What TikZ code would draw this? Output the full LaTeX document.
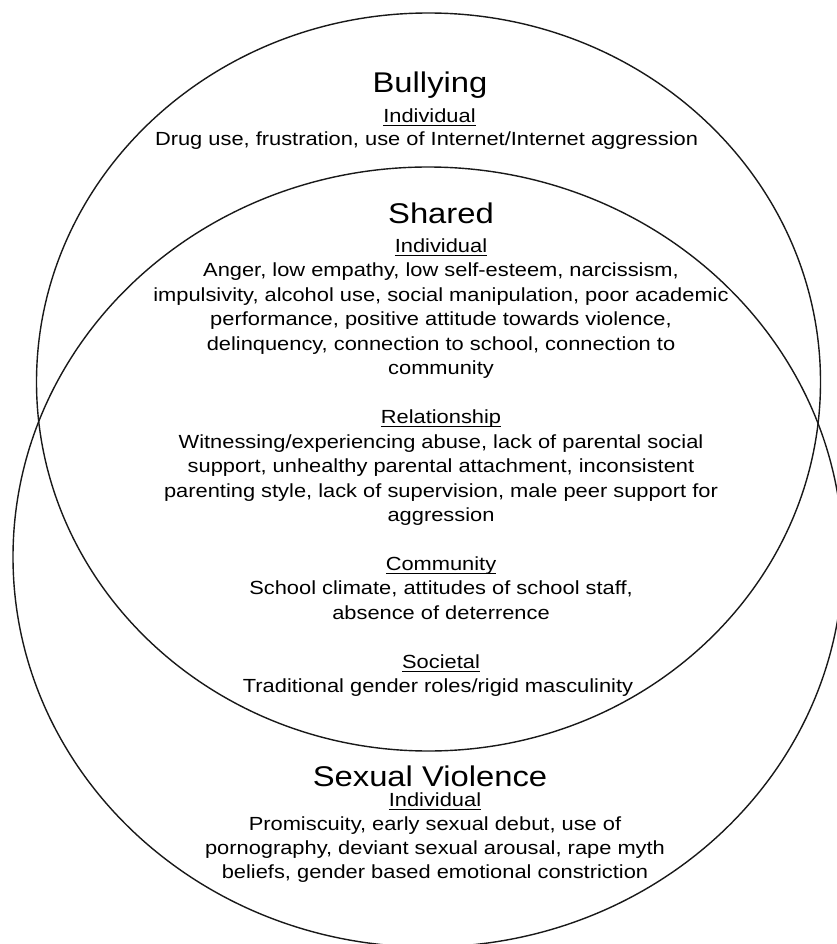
\documentclass[tikz,border=0pt]{standalone}
\usepackage{fontspec}
\setmainfont{Liberation Sans}[FakeStretch=1.15]
% underlined sub-heading
\newcommand\hdr[1]{\setbox0\hbox{#1}\rlap{\rule[-3.6pt]{\wd0}{1.2pt}}\box0}
\tikzset{
  ring/.style={draw=black!90, line width=1.4pt},
  bigtitle/.style={anchor=base, inner sep=0pt, font=\fontsize{28.5}{34}\selectfont},
  body/.style={anchor=base, inner sep=0pt, font=\fontsize{19}{24}\selectfont},
}
\begin{document}
\begin{tikzpicture}[x=1pt, y=-1pt]
\fill[white] (0,0) rectangle (837,944);
\useasboundingbox (0,0) rectangle (837,944);
\begin{scope}
\clip (0,0) rectangle (837,944);
% the two overlapping sets
\draw[ring] (428.5,382) ellipse [x radius=392, y radius=369];
\draw[ring] (428,557) ellipse [x radius=415, y radius=390];
\end{scope}

% Bullying only
\node[bigtitle] (bt) at (430,93) {Bullying};
\node[body] (b1) at (429.5,122.5) {\hdr{Individual}};
\node[body] (b2) at (426.5,145.7) {Drug use, frustration, use of Internet/Internet aggression};

% Shared factors
\node[bigtitle] (st) at (441,223) {Shared};
\node[body] (s1)  at (441,252.5)  {\hdr{Individual}};
\node[body] (s2)  at (441,276.95) {Anger, low empathy, low self-esteem, narcissism,};
\node[body] (s3)  at (441,301.4)  {impulsivity, alcohol use, social manipulation, poor academic};
\node[body] (s4)  at (441,325.85) {performance, positive attitude towards violence,};
\node[body] (s5)  at (441,350.3)  {delinquency, connection to school, connection to};
\node[body] (s6)  at (441,374.75) {community};
\node[body] (s7)  at (441,423.65) {\hdr{Relationship}};
\node[body] (s8)  at (441,448.1)  {Witnessing/experiencing abuse, lack of parental social};
\node[body] (s9)  at (441,472.55) {support, unhealthy parental attachment, inconsistent};
\node[body] (s10) at (441,497.0)  {parenting style, lack of supervision, male peer support for};
\node[body] (s11) at (441,521.45) {aggression};
\node[body] (s12) at (441,570.35) {\hdr{Community}};
\node[body] (s13) at (441,594.8)  {School climate, attitudes of school staff,};
\node[body] (s14) at (441,619.25) {absence of deterrence};
\node[body] (s15) at (441,668.15) {\hdr{Societal}};
\node[body] (s16) at (438,692.6)  {Traditional gender roles/rigid masculinity};

% Sexual violence only
\node[bigtitle] (vt) at (430,786) {Sexual Violence};
\node[body] (v1) at (435,806.5) {\hdr{Individual}};
\node[body] (v2) at (435,830.5) {Promiscuity, early sexual debut, use of};
\node[body] (v3) at (435,854.5) {pornography, deviant sexual arousal, rape myth};
\node[body] (v4) at (435,878.5) {beliefs, gender based emotional constriction};
\end{tikzpicture}
\end{document}
